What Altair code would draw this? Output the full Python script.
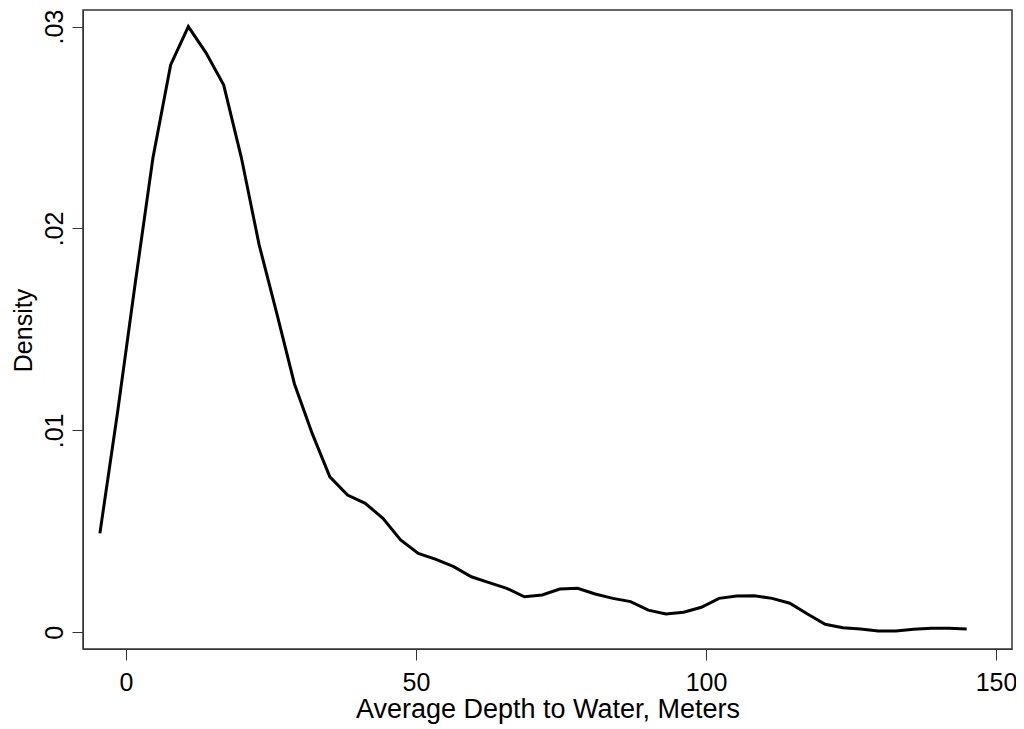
import altair as alt
import pandas as pd

# Kernel density estimate, 50 evaluation points
depth = [-4.5 + 3.05 * i for i in range(50)]
density = [
    0.0049, 0.0109, 0.0173, 0.0235, 0.0281, 0.0300, 0.0287, 0.0271, 0.0235, 0.0192,
    0.0158, 0.0123, 0.00985, 0.0077, 0.0068, 0.00639, 0.00564, 0.00457, 0.00391, 0.00361,
    0.00325, 0.00275, 0.00246, 0.00218, 0.00176, 0.00185, 0.00214, 0.00218, 0.0019, 0.00168,
    0.00152, 0.0011, 0.00091, 0.00099, 0.00124, 0.00168, 0.0018, 0.00181, 0.00168, 0.00144,
    0.00091, 0.0004, 0.00023, 0.00016, 0.00006, 0.00006, 0.00015, 0.0002, 0.0002, 0.00016,
]
x_ticks = [0, 50, 100, 150]
y_ticks = [0, 0.01, 0.02, 0.03]

df = pd.DataFrame({"depth": depth, "density": density})

FONT = "Liberation Sans"

chart = alt.Chart(df).mark_line(color="black", strokeWidth=3).encode(
    x=alt.X(
        "depth:Q",
        scale=alt.Scale(domain=[-7.41, 152.76], nice=False, zero=False),
        axis=alt.Axis(
            values=x_ticks,
            title="Average Depth to Water, Meters",
            grid=False,
            tickSize=11,
            tickColor="#333333",
            domainColor="#333333",
            labelPadding=10,
            labelFontSize=25,
            labelFont=FONT,
            labelColor="black",
            titleFont=FONT,
            titleFontSize=27,
            titleFontWeight="normal",
            titleColor="black",
            titleBaseline="alphabetic",
            titleY=68,
        ),
    ),
    y=alt.Y(
        "density:Q",
        scale=alt.Scale(domain=[-0.000827, 0.03082], nice=False, zero=False),
        axis=alt.Axis(
            values=y_ticks,
            labelExpr="datum.value == 0 ? '0' : '.' + substring(format(datum.value, '.2f'), 2)",
            title="Density",
            grid=False,
            tickSize=11,
            tickColor="#333333",
            domainColor="#333333",
            labelAngle=-90,
            labelAlign="center",
            labelBaseline="bottom",
            labelPadding=5,
            labelFontSize=25,
            labelFont=FONT,
            labelColor="black",
            titleFont=FONT,
            titleFontSize=25,
            titleFontWeight="normal",
            titleColor="black",
            titleAngle=-90,
            titleBaseline="alphabetic",
            titleX=-52,
            titleY=320,
        ),
    ),
).properties(
    width=929,
    height=639,
    autosize=alt.AutoSizeParams(type="none"),
    padding={"left": 75, "top": 2, "right": 4, "bottom": 80},
).configure(
    background="white"
).configure_view(
    stroke="#333333", strokeWidth=1.5
)

chart.save("out.html", embed_options={"renderer": "svg", "actions": False})
